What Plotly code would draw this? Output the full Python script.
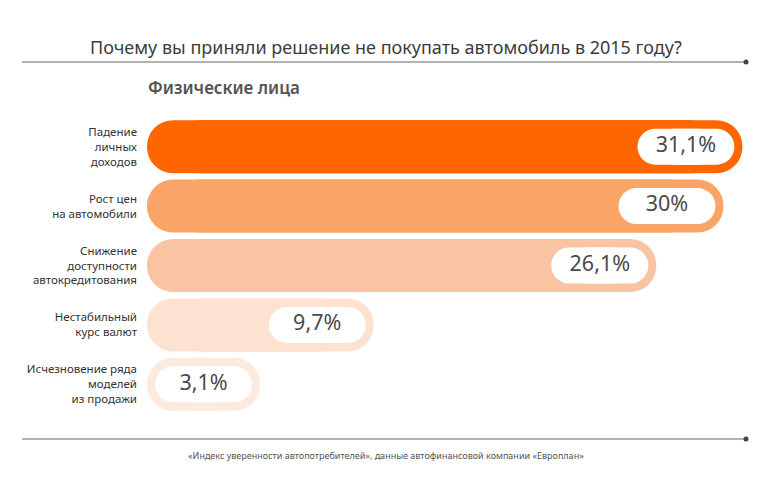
import plotly.graph_objects as go

# ---- data ----
categories = [
    "Падение<br>личных<br>доходов",
    "Рост цен<br>на автомобили",
    "Снижение<br>доступности<br>автокредитования",
    "Нестабильный<br>курс валют",
    "Исчезновение ряда<br>моделей<br>из продажи",
]
values = [31.1, 30.0, 26.1, 9.7, 3.1]
value_labels = ["31,1%", "30%", "26,1%", "9,7%", "3,1%"]
bar_colors = ["#FF6600", "#FBA468", "#F9C4A2", "#FDE2D1", "#FCEADF"]

title_text = "Почему вы приняли решение не покупать автомобиль в 2015 году?"
subtitle_text = "Физические лица"
source_text = "«Индекс уверенности автопотребителей», данные автофинансовой компании «Европлан»"

# ---- layout geometry (pixels, in page coordinates) ----
OFF = 8                 # default page body margin
FIG_W, FIG_H = 770 - OFF, 481 - OFF
PL, PR, PT, PB = 140, 760, 117, 414   # plot area in page pixels
L, T = PL - OFF, PT - OFF
R, B = FIG_W - (PR - OFF), FIG_H - (PB - OFF)
PW, PH = PR - PL, PB - PT
SCALE = 17.23          # px per percentage point
ZERO_PX = 206.6        # page pixel position of 0 %
X_MIN = (PL - ZERO_PX) / SCALE
X_MAX = (PR - ZERO_PX) / SCALE
BAND = PH / len(categories)
BAR_PX = 53
PILL_PX = 36
PILL_W = 97
PILL_INSET = 8
LEFT_EDGE = (147 - ZERO_PX) / SCALE


def px(d):
    return d / SCALE


def paper_x(p):
    return (p - PL) / PW


def paper_y(p):
    return 1 - (p - PT) / PH


def add_pill(fig, x0s, x1s, thick_px, colors):
    """Pill = right-rounded bar + left-rounded bar (both drawn by plotly bars)."""
    r = px(thick_px / 2)
    w = thick_px / BAND
    fig.add_trace(go.Bar(
        y=categories, base=[a + r for a in x0s], x=[b - (a + r) for a, b in zip(x0s, x1s)],
        orientation="h", width=w,
        marker=dict(color=colors, cornerradius="50%", line=dict(width=0)),
        hoverinfo="skip",
    ))
    fig.add_trace(go.Bar(
        y=categories, base=[b - r for b in x1s], x=[a - (b - r) for a, b in zip(x0s, x1s)],
        orientation="h", width=w,
        marker=dict(color=colors, cornerradius="50%", line=dict(width=0)),
        hoverinfo="skip",
    ))


fig = go.Figure()

# coloured bars: from the common left edge to each value
add_pill(fig, [LEFT_EDGE] * len(values), values, BAR_PX, bar_colors)

# white label pills near the end of each bar
pill_right = [v - px(PILL_INSET) for v in values]
pill_left = [p - px(PILL_W) for p in pill_right]
add_pill(fig, pill_left, pill_right, PILL_PX, ["white"] * len(values))

# value labels
fig.add_trace(go.Scatter(
    y=categories, x=[(a + b) / 2 for a, b in zip(pill_left, pill_right)],
    mode="text", text=value_labels, textposition="middle center",
    textfont=dict(family="Noto Sans", size=21.5, color="#4a4a4a"),
    hoverinfo="skip",
))

annotations = [
    dict(text=title_text, x=paper_x(386), y=paper_y(47), xref="paper", yref="paper",
         xanchor="center", yanchor="middle", showarrow=False,
         font=dict(family="Noto Sans", size=18, color="#3c3c3c")),
    dict(text=subtitle_text, x=paper_x(146), y=paper_y(87), xref="paper", yref="paper",
         xanchor="left", yanchor="middle", showarrow=False,
         font=dict(family="Noto Sans", size=17, color="#555555", weight=600)),
    dict(text=source_text, x=paper_x(386), y=paper_y(455), xref="paper", yref="paper",
         xanchor="center", yanchor="middle", showarrow=False,
         font=dict(family="Noto Sans", size=9, color="#555555")),
]

shapes = []
for ly in (62, 439):
    shapes.append(dict(type="line", xref="paper", yref="paper",
                       x0=paper_x(22), x1=paper_x(746), y0=paper_y(ly), y1=paper_y(ly),
                       line=dict(color="#9a9a9a", width=1.5)))
    shapes.append(dict(type="circle", xref="paper", yref="paper",
                       x0=paper_x(743.5), x1=paper_x(748.5), y0=paper_y(ly - 2.5), y1=paper_y(ly + 2.5),
                       fillcolor="#444444", line=dict(width=0)))

fig.update_layout(
    template="none",
    width=FIG_W, height=FIG_H,
    margin=dict(l=L, r=R, t=T, b=B, autoexpand=False),
    paper_bgcolor="white", plot_bgcolor="white",
    barmode="overlay", showlegend=False,
    xaxis=dict(range=[X_MIN, X_MAX], autorange=False, visible=False,
               fixedrange=True, automargin=False),
    yaxis=dict(type="category", categoryarray=categories,
               range=[len(categories) - 0.5, -0.5], autorange=False,
               showgrid=False, zeroline=False, showline=False, ticks="",
               ticklabelstandoff=2, automargin=False,
               tickfont=dict(family="Noto Sans", size=11.5, color="#333333"),
               fixedrange=True),
    annotations=annotations, shapes=shapes,
)

fig.write_html("out.html")
